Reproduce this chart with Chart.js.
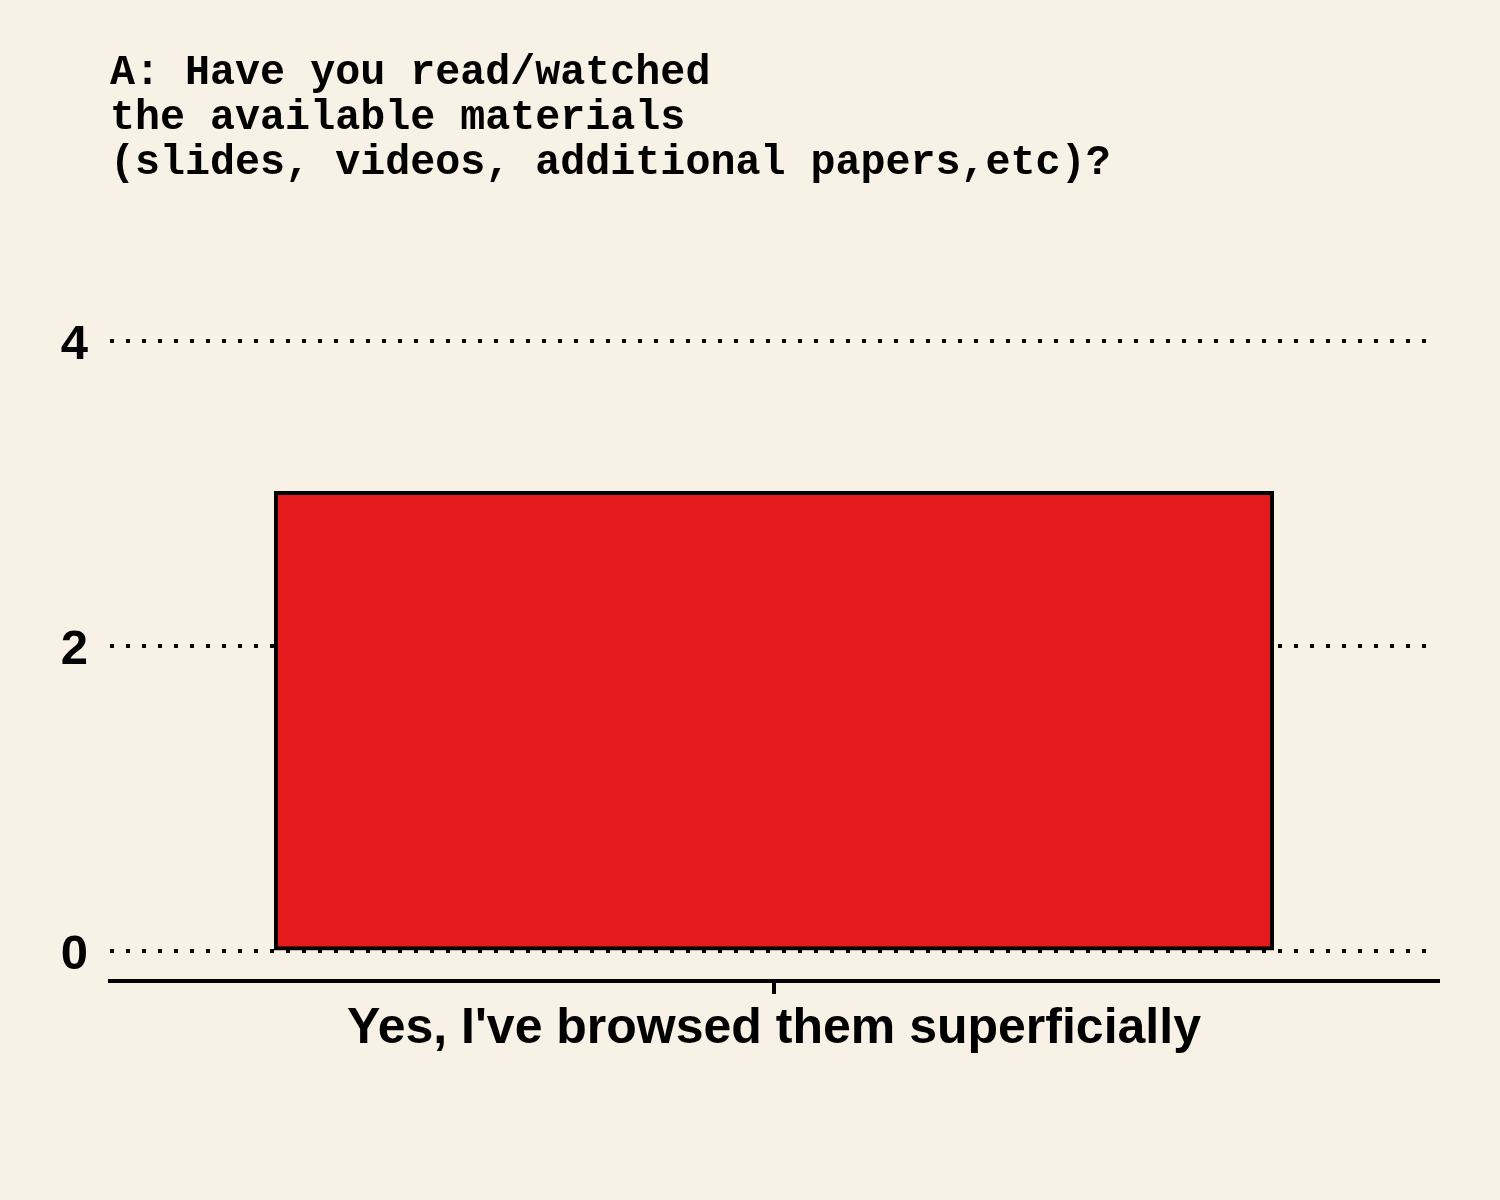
<!DOCTYPE html>
<html><head><meta charset="utf-8">
<script src="https://cdn.jsdelivr.net/npm/chart.js@4"></script>
<style>html,body{margin:0;padding:0;background:#F8F1E5;}canvas{display:block;}</style>
</head><body>
<canvas id="c" width="1500" height="1200"></canvas>
<script>
const categories = ["Yes, I've browsed them superficially"];
const counts = [3];
const yTickValues = [0, 2, 4];
const titleLines = ["A: Have you read/watched", "the available materials", "(slides, videos, additional papers,etc)?"];

const titlePlugin = {
  id: 'monoTitle',
  afterDraw(chart) {
    const ctx = chart.ctx;
    ctx.save();
    ctx.fillStyle = '#000';
    ctx.font = 'bold 41.7px "Liberation Mono", "Courier New", monospace';
    ctx.textBaseline = 'alphabetic';
    ctx.textAlign = 'left';
    titleLines.forEach((t, i) => ctx.fillText(t, 110, 84 + i * 45));
    ctx.restore();
  }
};

new Chart(document.getElementById('c'), {
  type: 'bar',
  data: {
    labels: categories,
    datasets: [{
      data: counts,
      backgroundColor: '#E41A1C',
      borderColor: '#000',
      borderWidth: 4,
      borderSkipped: false,
      inflateAmount: 2,
      barPercentage: 0.75,
      categoryPercentage: 1.0
    }]
  },
  options: {
    responsive: false,
    animation: false,
    layout: { padding: { top: 310, right: 62, bottom: 119, left: 0 } },
    plugins: { legend: { display: false }, tooltip: { enabled: false }, title: { display: false } },
    scales: {
      x: {
        afterFit(s) { s.height = 100; },
        grid: { display: true, drawOnChartArea: false, drawTicks: true, tickLength: 13, tickWidth: 4, tickColor: '#000', offset: false, color: '#000', lineWidth: 4 },
        border: { display: true, color: '#000', width: 4 },
        ticks: { color: '#000', padding: 5, font: { family: '"Liberation Sans", Arial, sans-serif', size: 50, weight: 'bold' } }
      },
      y: {
        min: -0.2, max: 4.2,
        afterFit(s) { s.width = 110; },
        afterBuildTicks(s) { s.ticks = yTickValues.map(v => ({ value: v })); },
        grid: { color: '#000', lineWidth: 4, drawTicks: false },
        border: { display: false, dash: [4, 12], dashOffset: 0 },
        ticks: { color: '#000', padding: 22, labelOffset: 5, font: { family: '"Liberation Sans", Arial, sans-serif', size: 49, weight: 'bold' } }
      }
    }
  },
  plugins: [titlePlugin]
});
</script>
</body></html>
